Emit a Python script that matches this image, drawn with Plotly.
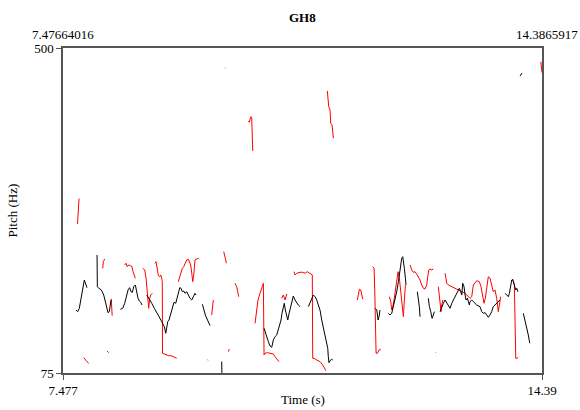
import plotly.graph_objects as go

N = None
# Pitch contours (time in s, pitch in Hz); None separates unvoiced gaps
black_time = [
    7.665, 7.689, 7.712, 7.741, 7.766, 7.784, 7.809, 7.823, N,
    7.968, 7.972, 7.992, 8.030, 8.064, 8.087, 8.112, 8.126, 8.145, 8.159, 8.169, N,
    8.304, 8.338, 8.367, 8.390, 8.415, 8.439, 8.458, 8.477, 8.497, 8.520, 8.540, 8.559, 8.578, 8.598, 8.617, N,
    8.685, 8.718, 8.757, 8.794, 8.829, 8.862, 8.901, 8.938, 8.959, 8.973, 8.988, 9.006, 9.035, 9.054, 9.078,
    9.103, 9.122, 9.140, 9.161, 9.179, 9.198, 9.218, 9.237, 9.262, 9.285, 9.309, 9.334, 9.357, 9.381, 9.396, N,
    9.487, 9.507, 9.530, 9.555, 9.574, 9.598, N,
    9.766, 9.770, N,
    9.812, 9.816, N,
    10.377, 10.396, 10.416, 10.439, 10.463, 10.488, 10.511, 10.535, 10.560, 10.583, 10.607, 10.622, 10.636,
    10.655, 10.669, 10.684, 10.704, 10.719, 10.733, 10.752, 10.776, 10.799, 10.824, 10.848, 10.871, 10.896, N,
    11.016, 11.040, 11.065, 11.088, 11.112, 11.137, 11.160, 11.184, 11.209, 11.232, 11.256, 11.281, 11.296,
    11.304, 11.314, 11.329, 11.353, 11.368, N,
    11.979, 12.003, 12.022, 12.036, 12.050, N,
    12.170, 12.194, 12.219, 12.242, 12.267, 12.291, 12.315, 12.329, 12.349, 12.363, 12.378, 12.387, 12.401, 12.416, 12.425, N,
    12.588, 12.603, 12.617, 12.627, N,
    12.747, 12.762, 12.782, 12.801, 12.819, 12.834, N,
    12.916, 12.940, 12.964, 12.988, 13.013, 13.036, 13.060, 13.085, 13.108, 13.133, 13.157, 13.180, 13.194,
    13.214, 13.229, 13.243, 13.262, 13.277, 13.291, 13.310, 13.324, 13.339, 13.348, 13.373, 13.396, 13.445,
    13.493, 13.517, 13.540, 13.565, 13.589, 13.612, 13.637, 13.661, 13.684, 13.709, 13.733, 13.756, 13.781, N,
    13.854, 13.878, 13.901, 13.916, 13.930, 13.950, 13.965, 13.979, 13.994, 14.008, 14.023, 14.037, N,
    14.070, 14.084, 14.099, N,
    14.117, 14.142, 14.166, 14.189, 14.210,
]
black_hz = [
    157.4, 155.2, 159.6, 172.7, 187.9, 196.6, 190.1, 186.6, N,
    229.3, 187.9, 185.8, 183.6, 177.0, 168.3, 159.6, 153.9, 155.2, 168.3, 170.5, N,
    158.3, 159.6, 166.2, 174.8, 183.6, 186.6, 181.3, 180.5, 187.9, 190.1, 181.3, 172.7, 169.2, 167.5, 163.9, N,
    177.0, 172.7, 166.2, 159.6, 153.1, 148.7, 142.2, 135.6, 127.0, 137.8, 142.2, 144.3, 155.2, 161.8, 167.5,
    166.2, 172.7, 181.3, 186.6, 185.8, 181.3, 182.3, 179.2, 181.3, 177.0, 172.7, 170.5, 174.8, 179.2, 177.0, N,
    164.9, 157.4, 150.9, 145.6, 141.3, 136.9, N,
    90.0, 70.0, N,
    474.0, 473.5, N,
    133.5, 127.0, 122.5, 116.0, 110.3, 108.6, 118.2, 122.5, 124.7, 131.3, 137.8, 144.3, 153.1,
    161.8, 166.2, 157.4, 148.7, 144.3, 150.9, 157.4, 168.3, 175.7, 170.5, 166.2, 163.9, 161.7, N,
    161.7, 166.2, 172.7, 177.0, 174.8, 170.5, 163.9, 157.4, 144.3, 133.5, 122.5, 113.9, 107.3,
    96.4, 88.5, 91.1, 92.9, 92.0, N,
    159.6, 157.4, 144.3, 148.7, 157.4, N,
    153.1, 150.9, 153.1, 161.8, 172.7, 181.3, 194.4, 205.4, 218.5, 225.0, 227.1, 222.8, 211.9, 198.9, 190.1, N,
    181.3, 172.7, 161.8, 148.7, N,
    172.7, 161.8, 155.2, 146.5, 150.9, 155.2, N,
    155.2, 161.8, 166.2, 170.5, 166.2, 161.8, 159.6, 166.2, 170.5, 174.8, 179.2, 183.6, 185.8,
    181.3, 177.0, 192.3, 187.9, 177.0, 170.5, 172.7, 168.3, 163.9, 168.3, 170.5, 168.3, 163.9,
    161.7, 155.2, 153.1, 153.9, 150.9, 147.8, 150.9, 155.2, 161.8, 163.9, 166.2, 168.3, 170.5, N,
    179.2, 177.0, 174.8, 179.2, 185.8, 196.6, 197.5, 192.3, 187.9, 183.6, 185.8, 181.3, N,
    463.4, 466.0, 467.3, N,
    153.1, 144.3, 133.5, 124.7, 113.9,
]

red_time = [
    7.686, 7.693, 7.701, 7.708, N,
    7.776, 7.799, 7.823, 7.848, N,
    8.050, 8.058, 8.079, N,
    8.112, 8.136, N,
    8.173, 8.180, 8.186, N,
    8.367, 8.386, 8.405, 8.425, 8.448, 8.472, 8.487, 8.506, 8.520, N,
    8.627, 8.656, 8.675, 8.693, 8.713, 8.728, 8.742, 8.765, N,
    8.804, 8.819, 8.837, 8.852, 8.872, 8.886, 8.901, 8.909, 8.912, 8.948, 8.996, 9.045, 9.083, 9.117, N,
    9.140, 9.165, 9.179, 9.198, 9.218, 9.237, 9.262, 9.285, 9.299, 9.319, 9.334, 9.348, 9.363, 9.371,
    9.381, 9.406, 9.429, 9.443, N,
    9.560, 9.568, N,
    9.622, 9.631, 9.641, 9.645, N,
    9.795, 9.810, 9.824, 9.833, N,
    9.862, 9.876, N,
    9.958, 9.982, 9.997, 10.011, N,
    10.150, 10.165, 10.179, 10.189, 10.199, 10.204, 10.208, 10.214, N,
    10.247, 10.261, 10.271, 10.290, 10.319, 10.344, 10.367, 10.377, 10.391, 10.424, 10.463, 10.511,
    10.535, 10.560, 10.593, N,
    10.632, 10.655, 10.680, 10.694, 10.704, N,
    10.809, 10.824, 10.848, 10.871, 10.896, 10.935, 10.968, 11.001, 11.040, 11.073, 11.079, 11.098,
    11.137, 11.184, 11.223, 11.256, 11.270, N,
    11.290, 11.300, 11.310, 11.329, 11.339, 11.358, 11.368, 11.377, N,
    11.723, 11.737, 11.752, 11.772, 11.786, 11.801, N,
    11.945, 11.964, 11.974, 11.983, 11.993, 12.012, 12.036, 12.061, N,
    12.185, 12.205, 12.219, 12.234, 12.252, 12.271, 12.291, 12.310, 12.329, 12.349, 12.368, 12.387,
    12.397, 12.407, 12.416, N,
    12.483, 12.508, 12.531, 12.555, 12.580, 12.603, 12.627, 12.652, 12.675, 12.699, 12.724, 12.738,
    12.753, 12.771, 12.796, 12.819, N,
    12.850, 12.855, N,
    12.891, 12.906, 12.920, 12.930, 12.940, 12.955, N,
    12.988, 13.013, 13.036, 13.085, 13.133, 13.180, 13.229, 13.277, 13.301, 13.324, 13.348, 13.373,
    13.396, 13.445, 13.483, 13.507, 13.532, 13.550, 13.569, 13.589, 13.612, 13.637, 13.661, 13.684,
    13.709, 13.733, 13.756, 13.771, 13.791, N,
    13.959, 13.974, 13.988, 13.998, 14.002, 14.008, 14.027, 14.046, N,
    14.370, 14.380, 14.386,
]
red_hz = [
    270.0, 282.0, 295.0, 303.0, N,
    95.0, 92.0, 89.8, 87.6, N,
    211.9, 220.6, 224.1, N,
    103.8, 101.6, N,
    172.0, 162.0, 150.0, N,
    216.3, 218.5, 214.0, 216.3, 215.4, 214.0, 207.5, 203.2, 198.9, N,
    211.9, 209.7, 198.9, 181.3, 159.6, 172.7, 177.0, 179.2, N,
    218.5, 220.6, 211.0, 202.3, 201.0, 203.2, 198.9, 194.5, 100.8, 99.5, 97.7, 97.3, 95.6, 94.3, N,
    194.4, 201.0, 207.5, 211.9, 214.0, 218.5, 222.8, 223.7, 220.6, 216.3, 205.4, 194.4, 203.2, 216.3,
    222.8, 224.1, 225.0, 224.1, N,
    92.5, 91.5, N,
    150.9, 159.6, 168.3, 170.5, N,
    233.7, 229.3, 222.8, 218.5, N,
    102.9, 106.4, N,
    192.3, 187.9, 181.3, 174.8, N,
    404.6, 402.9, 408.1, 410.2, 408.1, 395.0, 381.9, 365.3, N,
    140.0, 148.7, 159.6, 170.5, 179.2, 185.8, 192.3, 98.6, 100.8, 101.6, 100.8, 99.9,
    96.4, 92.9, 89.8, N,
    172.7, 177.0, 170.5, 174.8, 178.3, N,
    207.5, 203.2, 205.4, 206.2, 206.7, 206.7, 205.4, 207.5, 205.4, 203.2, 94.2, 94.2,
    92.0, 89.8, 85.5, 81.2, 78.0, N,
    443.8, 434.3, 423.3, 418.9, 401.6, 399.3, 390.6, 381.9, N,
    170.5, 179.2, 184.5, 183.6, 177.0, 171.4, N,
    214.1, 211.9, 183.6, 140.0, 100.8, 100.8, 105.1, 106.0, N,
    174.8, 168.3, 157.4, 161.8, 170.5, 183.6, 198.9, 207.5, 198.9, 181.3, 166.2, 148.7,
    163.9, 183.6, 190.1, N,
    216.3, 209.7, 206.7, 207.5, 204.1, 200.9, 196.6, 190.1, 185.8, 184.9, 190.1, 200.9,
    209.7, 211.0, 209.7, 211.0, N,
    102.1, 101.5, N,
    187.9, 177.0, 163.9, 155.2, 163.9, 170.5, N,
    205.4, 192.3, 190.1, 187.9, 185.8, 183.6, 181.3, 179.2, 177.0, 174.8, 172.7, 174.8,
    190.1, 195.7, 194.4, 187.9, 172.7, 166.2, 172.7, 183.6, 200.9, 198.9, 187.9, 181.3,
    183.6, 172.7, 155.2, 166.2, 174.8, N,
    196.6, 194.4, 190.1, 155.2, 120.4, 94.2, 94.2, 95.9, N,
    482.0, 475.0, 468.0,
]

t_min, t_max = 7.47664016, 14.3865917
f_min, f_max = 75, 500
x_ticks = [t_min, t_max]
x_tick_text = ["7.477", "14.39"]
y_ticks = [f_min, f_max]
y_tick_text = ["75", "500"]
top_labels = ["7.47664016", "14.3865917"]

FONT = "Liberation Serif, Times New Roman, serif"

fig = go.Figure()
fig.add_trace(go.Scatter(x=red_time, y=red_hz, mode="lines",
                         line=dict(color="#ff0000", width=1), connectgaps=False,
                         hoverinfo="skip", showlegend=False))
fig.add_trace(go.Scatter(x=black_time, y=black_hz, mode="lines",
                         line=dict(color="#000000", width=1), connectgaps=False,
                         hoverinfo="skip", showlegend=False))

axis_common = dict(showgrid=False, zeroline=False, showline=True, mirror=True,
                   linecolor="#555555", linewidth=1.5, ticks="outside", ticklen=5,
                   tickcolor="#555555", tickwidth=1,
                   tickfont=dict(family=FONT, size=13, color="#000000"))

fig.update_layout(
    width=580, height=410,
    margin=dict(l=63, r=38, t=48, b=37, autoexpand=False),
    paper_bgcolor="white", plot_bgcolor="white",
    font=dict(family=FONT, size=13, color="#000000"),
    xaxis=dict(range=[t_min, t_max], tickvals=x_ticks, ticktext=x_tick_text, **axis_common),
    yaxis=dict(range=[f_min, f_max], tickvals=y_ticks, ticktext=y_tick_text, **axis_common),
    showlegend=False,
)

fig.add_annotation(text="<b>GH8</b>", xref="paper", yref="paper", x=0.5, y=1,
                   yshift=21, xanchor="center", yanchor="bottom", showarrow=False,
                   font=dict(family=FONT, size=13))
fig.add_annotation(text=top_labels[0], xref="paper", yref="paper", x=0, y=1,
                   yshift=4, xanchor="center", yanchor="bottom", showarrow=False,
                   font=dict(family=FONT, size=13))
fig.add_annotation(text=top_labels[1], xref="paper", yref="paper", x=1, y=1,
                   xshift=38, yshift=4, xanchor="right", yanchor="bottom", showarrow=False,
                   font=dict(family=FONT, size=13))
fig.add_annotation(text="Time (s)", xref="paper", yref="paper", x=0.5, y=0,
                   yshift=-36, xanchor="center", yanchor="bottom", showarrow=False,
                   font=dict(family=FONT, size=13))
fig.add_annotation(text="Pitch (Hz)", xref="paper", yref="paper", x=0, y=0.5,
                   xshift=-51, xanchor="center", yanchor="middle", textangle=-90,
                   showarrow=False, font=dict(family=FONT, size=13))

fig.write_html("out.html", config={"displayModeBar": False},
               post_script="document.body.style.margin='0';document.body.style.overflow='hidden';")
